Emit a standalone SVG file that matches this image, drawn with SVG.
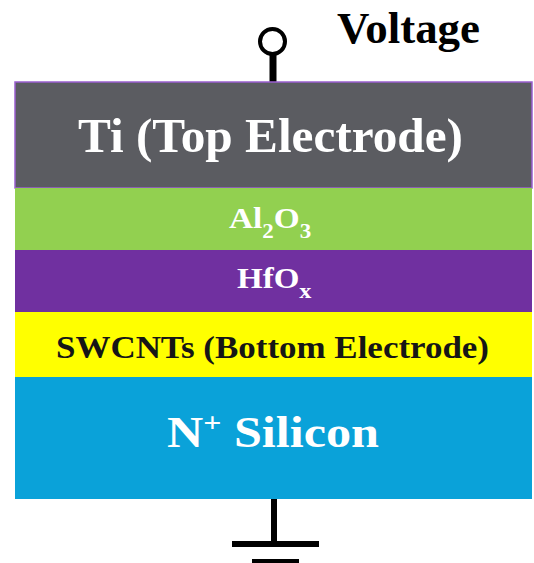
<svg xmlns="http://www.w3.org/2000/svg" width="534" height="563" viewBox="0 0 534 563">
<style>
.t{font-family:"Liberation Serif","Times New Roman",serif;font-weight:bold}
.w{fill:#ffffff}
.k{stroke:#000;fill:none}
</style>
<rect width="534" height="563" fill="#ffffff"/>
<g id="connectors">
<circle class="k" cx="272.5" cy="41.5" r="12.5" stroke-width="4"/>
<line class="k" x1="273" y1="54" x2="273" y2="83" stroke-width="7"/>
<line class="k" x1="274" y1="498" x2="274" y2="544" stroke-width="6"/>
<line class="k" x1="232" y1="544" x2="319" y2="544" stroke-width="6"/>
<line class="k" x1="252" y1="562" x2="299" y2="562" stroke-width="6"/>
</g>
<g id="voltage">
<text class="t" x="337" y="43" font-size="44" fill="#000" textLength="143" lengthAdjust="spacingAndGlyphs">Voltage</text>
</g>
<g id="ti">
<rect x="15" y="82" width="517" height="106" fill="#5b5c61" stroke="#9b5fcf" stroke-width="1.5"/>
<text class="t w" x="270.5" y="152" font-size="48" text-anchor="middle" textLength="385" lengthAdjust="spacingAndGlyphs">Ti (Top Electrode)</text>
</g>
<g id="al2o3">
<rect x="15" y="188" width="517" height="62" fill="#92d050"/>
<text class="t w" transform="translate(229,228) scale(1.15,1)" x="0" y="0" font-size="29">Al<tspan font-size="20" dy="10">2</tspan><tspan dy="-10">O</tspan><tspan font-size="20" dy="10">3</tspan></text>
</g>
<g id="hfox">
<rect x="15" y="250" width="517" height="62" fill="#7030a0"/>
<text class="t w" transform="translate(237,288) scale(1.1,1)" x="0" y="0" font-size="30">HfO<tspan font-size="22" dy="10">x</tspan></text>
</g>
<g id="swcnts">
<rect x="15" y="312" width="517" height="65" fill="#ffff00"/>
<text class="t" x="56" y="358" font-size="31" fill="#161616" textLength="433" lengthAdjust="spacingAndGlyphs">SWCNTs (Bottom Electrode)</text>
</g>
<g id="silicon">
<rect x="15" y="377" width="517" height="122" fill="#0aa2d9"/>
<text class="t w" transform="translate(167,447) scale(1.14,1)" x="0" y="0" font-size="44">N<tspan font-size="28" dy="-15">+</tspan><tspan dy="15"> Silicon</tspan></text>
</g>
</svg>
